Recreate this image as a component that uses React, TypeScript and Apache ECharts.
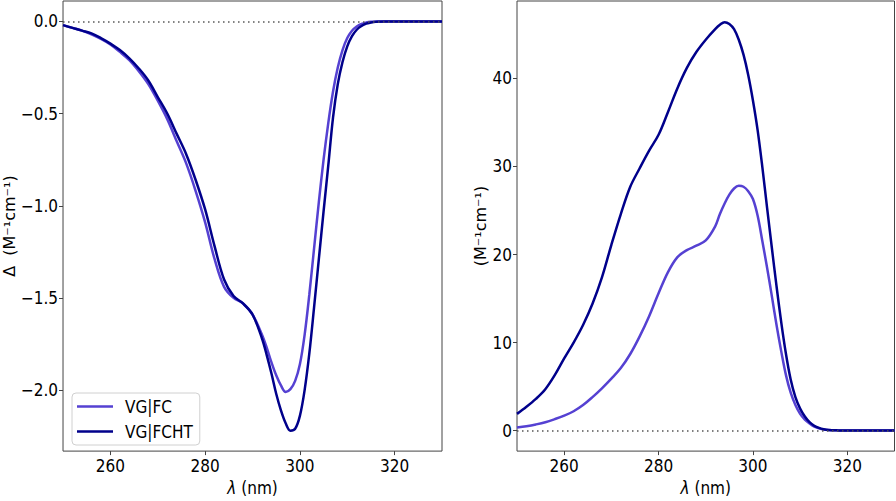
import React, { useEffect, useRef } from 'react';
import * as echarts from 'echarts';

// ---- data ----
const WAVELENGTH = [
  250, 252, 254, 256, 258, 260, 262, 264, 266, 268, 270, 272, 274, 276, 278, 280, 282, 284, 286, 288, 290,
  292, 293, 294, 295, 296, 297, 298, 299, 300, 301, 302, 303, 304, 305, 306, 307, 308, 309, 310, 311, 312,
  313, 314, 315, 316, 318, 320, 325, 330,
];

const CD_FC = [
  -0.02, -0.035, -0.05, -0.07, -0.095, -0.125, -0.165, -0.21, -0.27, -0.34, -0.43, -0.53, -0.65, -0.77, -0.92,
  -1.09, -1.29, -1.44, -1.5, -1.53, -1.59,
  -1.7, -1.77, -1.85, -1.92, -1.975, -2.01, -1.995, -1.95, -1.86, -1.7, -1.48, -1.23, -0.98, -0.75, -0.55, -0.38,
  -0.25, -0.155, -0.09, -0.05, -0.027,
  -0.013, -0.006, -0.002, -0.001, 0, 0, 0, 0,
];

const CD_FCHT = [
  -0.02, -0.035, -0.05, -0.065, -0.09, -0.12, -0.155, -0.2, -0.255, -0.32, -0.41, -0.5, -0.61, -0.72, -0.86,
  -1.02, -1.22, -1.4, -1.49, -1.53, -1.59,
  -1.72, -1.81, -1.91, -2.02, -2.11, -2.18, -2.22, -2.21, -2.14, -2.0, -1.8, -1.55, -1.29, -1.03, -0.78, -0.52,
  -0.34, -0.22, -0.135, -0.08, -0.045,
  -0.025, -0.012, -0.006, -0.002, 0, 0, 0, 0,
];

const ABS_FC = [
  0.35, 0.5, 0.7, 0.95, 1.3, 1.7, 2.2, 2.9, 3.8, 4.8, 5.9, 7.1, 8.7, 10.7, 13.0, 15.6, 18.0, 19.7, 20.5, 21.0, 21.6,
  23.2, 24.6, 25.8, 26.8, 27.5, 27.8, 27.7, 27.2, 26.3, 24.4, 21.5, 18.5, 15.3, 12.0, 9.0, 6.3,
  4.3, 2.9, 1.9, 1.25, 0.8,
  0.45, 0.25, 0.12, 0.06, 0.02, 0, 0, 0,
];

const ABS_FCHT = [
  1.9, 2.7, 3.6, 4.7, 6.3, 8.2, 10.0, 12.0, 14.4, 17.4, 21.1, 24.6, 27.7, 29.8, 31.8, 33.6, 36.2, 38.9, 41.2, 43.0, 44.4,
  45.6, 46.1, 46.4, 46.2, 45.6, 44.4, 42.7, 40.4, 37.5, 34.1, 29.9, 25.3, 20.8, 16.4, 12.3, 8.7,
  5.8, 3.8, 2.5, 1.6, 0.95,
  0.55, 0.3, 0.15, 0.07, 0.02, 0, 0, 0,
];

const SERIES_NAMES = ['VG|FC', 'VG|FCHT'];
const SERIES_COLORS = ['#5541d2', '#00008b'];

const X_TICKS = [260, 280, 300, 320];
const CD_TICKS = [-2.0, -1.5, -1.0, -0.5, 0.0];
const ABS_TICKS = [0, 10, 20, 30, 40];

const X_RANGE = [250, 330];
const CD_RANGE = [-2.331, 0.111];
const ABS_RANGE = [-2.33, 48.8];

const CD_NAME = 'Δ  (M⁻¹cm⁻¹)';
const ABS_NAME = '(M⁻¹cm⁻¹)';

// ---- styling ----
const NARROW = '"Liberation Sans Narrow", "DejaVu Sans Condensed", "DejaVu Sans", sans-serif';
const REGULAR = '"DejaVu Sans", sans-serif';
const FRAME = '#444';
// legend handle: a 36px line inside a 43px slot (so the label sits 12px after the line)
const LEGEND_ICON = 'path://M0,0H36V2.5H0Z M42.99,0H43V2.5H42.99Z';

function pairs(ys: number[]) {
  return WAVELENGTH.map((w, i) => [w, ys[i]]);
}

function fmtMinus(s: string) {
  return s.replace('-', '\u2212');
}

function makeXAxis(gridIndex: number) {
  return {
    type: 'value',
    gridIndex,
    min: X_RANGE[0],
    max: X_RANGE[1],
    axisLine: { show: false, onZero: false },
    splitLine: { show: false },
    axisTick: { show: true, length: 4, lineStyle: { color: FRAME, width: 1 }, customValues: X_TICKS },
    axisLabel: {
      customValues: X_TICKS,
      color: '#000',
      fontSize: 17,
      fontFamily: NARROW,
      margin: 6,
      formatter: (v: number) => String(v),
    },
    name: '{i|λ} (nm)',
    nameLocation: 'middle',
    nameGap: 23,
    nameTextStyle: {
      color: '#000',
      fontSize: 17,
      fontFamily: NARROW,
      rich: { i: { fontStyle: 'italic', fontSize: 17, fontFamily: NARROW, color: '#000' } },
    },
  };
}

function makeYAxis(gridIndex: number, range: number[], ticks: number[], name: string, gap: number, digits: number) {
  return {
    type: 'value',
    gridIndex,
    min: range[0],
    max: range[1],
    axisLine: { show: false, onZero: false },
    splitLine: { show: false },
    axisTick: { show: true, length: 4, lineStyle: { color: FRAME, width: 1 }, customValues: ticks },
    axisLabel: {
      customValues: ticks,
      color: '#000',
      fontSize: 17,
      fontFamily: NARROW,
      margin: 5,
      formatter: (v: number) => fmtMinus(v.toFixed(digits)),
    },
    name,
    nameLocation: 'middle',
    nameGap: gap,
    nameTextStyle: { color: '#000', fontSize: 16, fontFamily: REGULAR },
  };
}

function zeroLine() {
  return {
    silent: true,
    symbol: ['none', 'none'],
    label: { show: false },
    lineStyle: { color: '#555', width: 1.5, type: [1.5, 3.5] },
    data: [{ yAxis: 0 }],
  };
}

function makeSeries(name: string, color: string, ys: number[], axisIndex: number, withZero: boolean) {
  return {
    type: 'line',
    name,
    xAxisIndex: axisIndex,
    yAxisIndex: axisIndex,
    data: pairs(ys),
    symbol: 'none',
    showSymbol: false,
    smooth: 0.35,
    lineStyle: { color, width: 2.5 },
    itemStyle: { color },
    z: 3,
    ...(withZero ? { markLine: zeroLine() } : {}),
  };
}

export default function App() {
  const ref = useRef<HTMLDivElement>(null);

  useEffect(() => {
    if (!ref.current) return;
    const chart = echarts.init(ref.current, undefined, { renderer: 'svg' });
    chart.setOption({
      animation: false,
      backgroundColor: '#fff',
      grid: [
        { left: 63, top: 1, width: 379, height: 455, show: true, borderColor: FRAME, borderWidth: 1, backgroundColor: 'transparent' },
        { left: 517, top: 1, width: 377.5, height: 455, show: true, borderColor: FRAME, borderWidth: 1, backgroundColor: 'transparent' },
      ],
      xAxis: [makeXAxis(0), makeXAxis(1)],
      yAxis: [
        makeYAxis(0, CD_RANGE, CD_TICKS, CD_NAME, 41, 1),
        makeYAxis(1, ABS_RANGE, ABS_TICKS, ABS_NAME, 27, 0),
      ],
      legend: {
        data: SERIES_NAMES.map((n) => ({ name: n, icon: LEGEND_ICON })),
        orient: 'vertical',
        left: 72,
        top: 393,
        itemWidth: 43,
        itemHeight: 2.5,
        symbolKeepAspect: false,
        itemGap: 8,
        padding: [5, 7, 5, 5],
        backgroundColor: 'rgba(255,255,255,0.8)',
        borderColor: '#d0d0d0',
        borderWidth: 1,
        borderRadius: 4,
        textStyle: { color: '#000', fontSize: 17, fontFamily: NARROW },
      },
      series: [
        makeSeries(SERIES_NAMES[0], SERIES_COLORS[0], CD_FC, 0, true),
        makeSeries(SERIES_NAMES[1], SERIES_COLORS[1], CD_FCHT, 0, false),
        makeSeries(SERIES_NAMES[0], SERIES_COLORS[0], ABS_FC, 1, true),
        makeSeries(SERIES_NAMES[1], SERIES_COLORS[1], ABS_FCHT, 1, false),
      ],
    });
    return () => chart.dispose();
  }, []);

  return (
    <div
      ref={ref}
      style={{ position: 'absolute', left: 0, top: 0, width: 896, height: 501 }}
    />
  );
}
